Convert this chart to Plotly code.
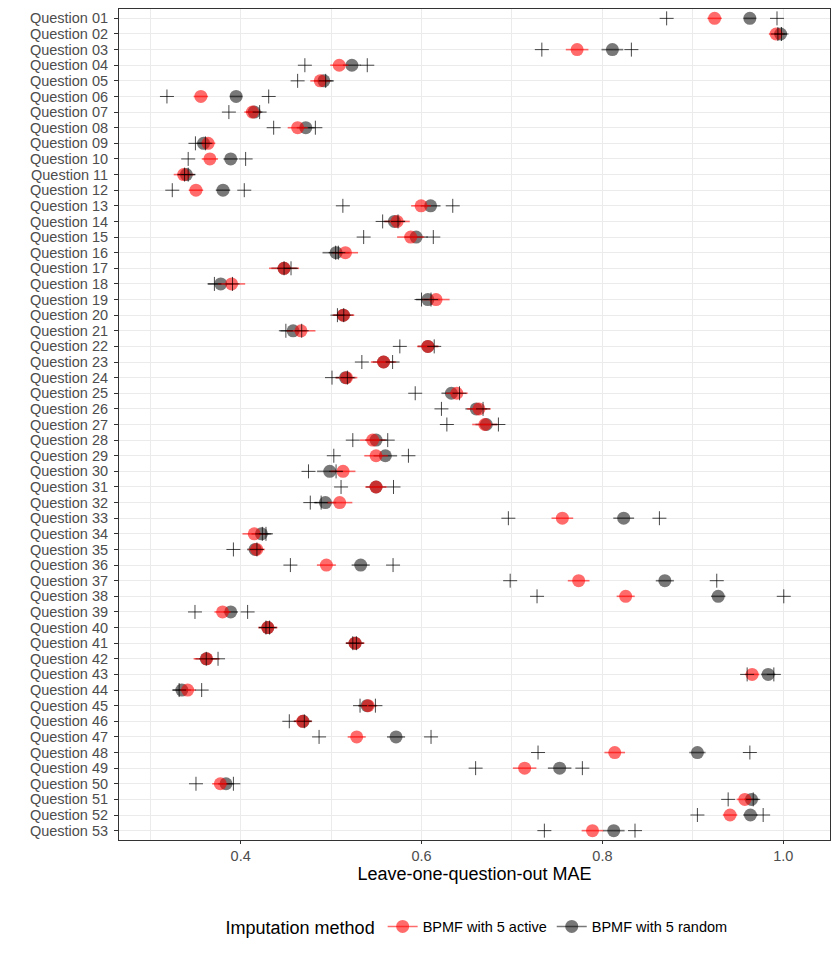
import plotly.graph_objects as go

questions = [f"Question {i:02d}" for i in range(1, 54)]

active_mae = [0.924, 0.992, 0.772, 0.509, 0.488, 0.356, 0.413, 0.463, 0.364, 0.366,
              0.337, 0.3506, 0.5995, 0.573, 0.588, 0.5158, 0.448, 0.390, 0.616, 0.5136,
              0.4667, 0.607, 0.558, 0.517, 0.639, 0.6635, 0.670, 0.546, 0.5497, 0.5132,
              0.5497, 0.5095, 0.7557, 0.415, 0.4177, 0.4948, 0.7737, 0.8257, 0.380, 0.430,
              0.5265, 0.3624, 0.9655, 0.3414, 0.541, 0.4686, 0.5283, 0.8136, 0.714, 0.3775,
              0.9574, 0.9411, 0.789]
random_mae = [0.963, 0.997, 0.811, 0.523, 0.492, 0.395, 0.415, 0.472, 0.359, 0.389,
              0.340, 0.3805, 0.610, 0.570, 0.594, 0.5055, 0.448, 0.378, 0.607, 0.5136,
              0.458, 0.607, 0.558, 0.516, 0.633, 0.6605, 0.6716, 0.5497, 0.560, 0.4985,
              0.5497, 0.4937, 0.8235, 0.423, 0.416, 0.5327, 0.869, 0.928, 0.389, 0.430,
              0.5265, 0.362, 0.9832, 0.335, 0.5398, 0.469, 0.5718, 0.905, 0.7527, 0.3838,
              0.9648, 0.9636, 0.8125]
active_err = [0.008, 0.008, 0.0125, 0.010, 0.011, 0.008, 0.009, 0.011, 0.008, 0.009,
              0.011, 0.008, 0.011, 0.014, 0.015, 0.014, 0.0166, 0.015, 0.015, 0.012,
              0.016, 0.012, 0.014, 0.012, 0.012, 0.013, 0.014, 0.014, 0.013, 0.0137,
              0.012, 0.014, 0.012, 0.013, 0.009, 0.0105, 0.012, 0.010, 0.009, 0.0107,
              0.0103, 0.0144, 0.008, 0.009, 0.010, 0.010, 0.010, 0.0114, 0.013, 0.009,
              0.009, 0.008, 0.012]
random_err = [0.007, 0.007, 0.012, 0.010, 0.011, 0.007, 0.009, 0.010, 0.008, 0.008,
              0.010, 0.008, 0.011, 0.012, 0.013, 0.015, 0.014, 0.014, 0.013, 0.011,
              0.014, 0.011, 0.012, 0.011, 0.011, 0.012, 0.012, 0.012, 0.013, 0.014,
              0.011, 0.012, 0.0115, 0.011, 0.009, 0.010, 0.010, 0.008, 0.008, 0.010,
              0.010, 0.012, 0.008, 0.010, 0.010, 0.010, 0.010, 0.009, 0.013, 0.009,
              0.008, 0.008, 0.012]
cross_low = [0.871, 0.994, 0.733, 0.471, 0.463, 0.3185, 0.387, 0.4365, 0.350, 0.342,
             0.338, 0.3244, 0.513, 0.557, 0.536, 0.505, 0.448, 0.371, 0.600, 0.507,
             0.450, 0.576, 0.534, 0.501, 0.593, 0.622, 0.628, 0.524, 0.503, 0.475,
             0.511, 0.477, 0.696, 0.424, 0.392, 0.455, 0.698, 0.7277, 0.3495, 0.428,
             0.524, 0.362, 0.960, 0.332, 0.532, 0.4538, 0.4867, 0.7288, 0.6598, 0.3506,
             0.939, 0.905, 0.7358]
cross_high = [0.993, 0.998, 0.832, 0.540, 0.494, 0.431, 0.421, 0.4826, 0.361, 0.4055,
              0.342, 0.404, 0.6345, 0.574, 0.613, 0.508, 0.4557, 0.391, 0.6105, 0.514,
              0.4675, 0.614, 0.568, 0.518, 0.642, 0.668, 0.685, 0.5626, 0.5855, 0.5055,
              0.569, 0.489, 0.863, 0.428, 0.418, 0.5685, 0.9264, 1.0005, 0.4077, 0.432,
              0.528, 0.375, 0.9895, 0.3569, 0.549, 0.4704, 0.6105, 0.963, 0.7778, 0.392,
              0.9667, 0.9777, 0.836]

series_names = ["BPMF with 5 active", "BPMF with 5 random"]
red = "rgba(255,0,0,0.58)"
grey = "rgba(0,0,0,0.53)"
font_family = "Liberation Sans, Arial, sans-serif"

fig = go.Figure()

# random (grey) first, active (red) on top
fig.add_trace(go.Scatter(
    x=random_mae, y=questions, mode="markers", showlegend=False,
    marker=dict(color=grey, size=13, line=dict(width=0)),
    error_x=dict(type="data", array=random_err, symmetric=True, color=grey,
                 thickness=1.6, width=0),
))
fig.add_trace(go.Scatter(
    x=active_mae, y=questions, mode="markers", showlegend=False,
    marker=dict(color=red, size=13, line=dict(width=0)),
    error_x=dict(type="data", array=active_err, symmetric=True, color=red,
                 thickness=1.6, width=0),
))
for xs in (cross_low, cross_high):
    fig.add_trace(go.Scatter(
        x=xs, y=questions, mode="markers", showlegend=False,
        marker=dict(symbol="cross-thin", size=10,
                    line=dict(color="rgba(0,0,0,0.72)", width=1)),
    ))

# legend-only entries (point with horizontal bar)
for name, col in zip(series_names, [red, grey]):
    fig.add_trace(go.Scatter(
        x=[None], y=[None], mode="lines+markers", name=name,
        marker=dict(color=col, size=13), line=dict(color=col, width=1.6),
    ))

# page body has an 8px margin, so the figure is 832x952
fig.update_layout(
    width=832, height=952,
    paper_bgcolor="white", plot_bgcolor="white",
    margin=dict(l=111, r=10, t=1, b=120, autoexpand=False),
    font=dict(family=font_family, size=14.5, color="black"),
    showlegend=True,
    legend=dict(
        orientation="h", x=0.505, xanchor="center", y=-0.1053, yanchor="middle",
        title=dict(text="Imputation method", font=dict(size=18, color="black"), side="left"),
        font=dict(size=14.5, color="black"), itemwidth=30,
    ),
)
fig.update_xaxes(
    range=[0.2655, 1.0516],
    tickmode="array", tickvals=[0.4, 0.6, 0.8, 1.0], ticktext=["0.4", "0.6", "0.8", "1.0"],
    ticks="outside", ticklen=3, tickcolor="#333333", tickwidth=1,
    tickfont=dict(size=14.5, color="#4D4D4D"),
    showgrid=True, gridcolor="#EBEBEB", gridwidth=1.3,
    minor=dict(tickvals=[0.3, 0.5, 0.7, 0.9], showgrid=True, gridcolor="#EBEBEB",
               gridwidth=0.7, ticks=""),
    showline=True, linecolor="#333333", linewidth=1, mirror=True,
    zeroline=False, automargin=False,
    title=dict(text="Leave-one-question-out MAE", font=dict(size=18, color="black"), standoff=3),
)
fig.update_yaxes(
    type="category", categoryorder="array", categoryarray=questions,
    tickmode="array", tickvals=questions, ticktext=questions,
    range=[52.6, -0.6],
    ticks="outside", ticklen=4, tickcolor="#333333", tickwidth=1,
    ticklabelstandoff=3,
    tickfont=dict(size=14.5, color="#4D4D4D"),
    showgrid=True, gridcolor="#EBEBEB", gridwidth=1.3,
    showline=True, linecolor="#333333", linewidth=1, mirror=True,
    zeroline=False, automargin=False,
)

fig.write_html("out.html")
